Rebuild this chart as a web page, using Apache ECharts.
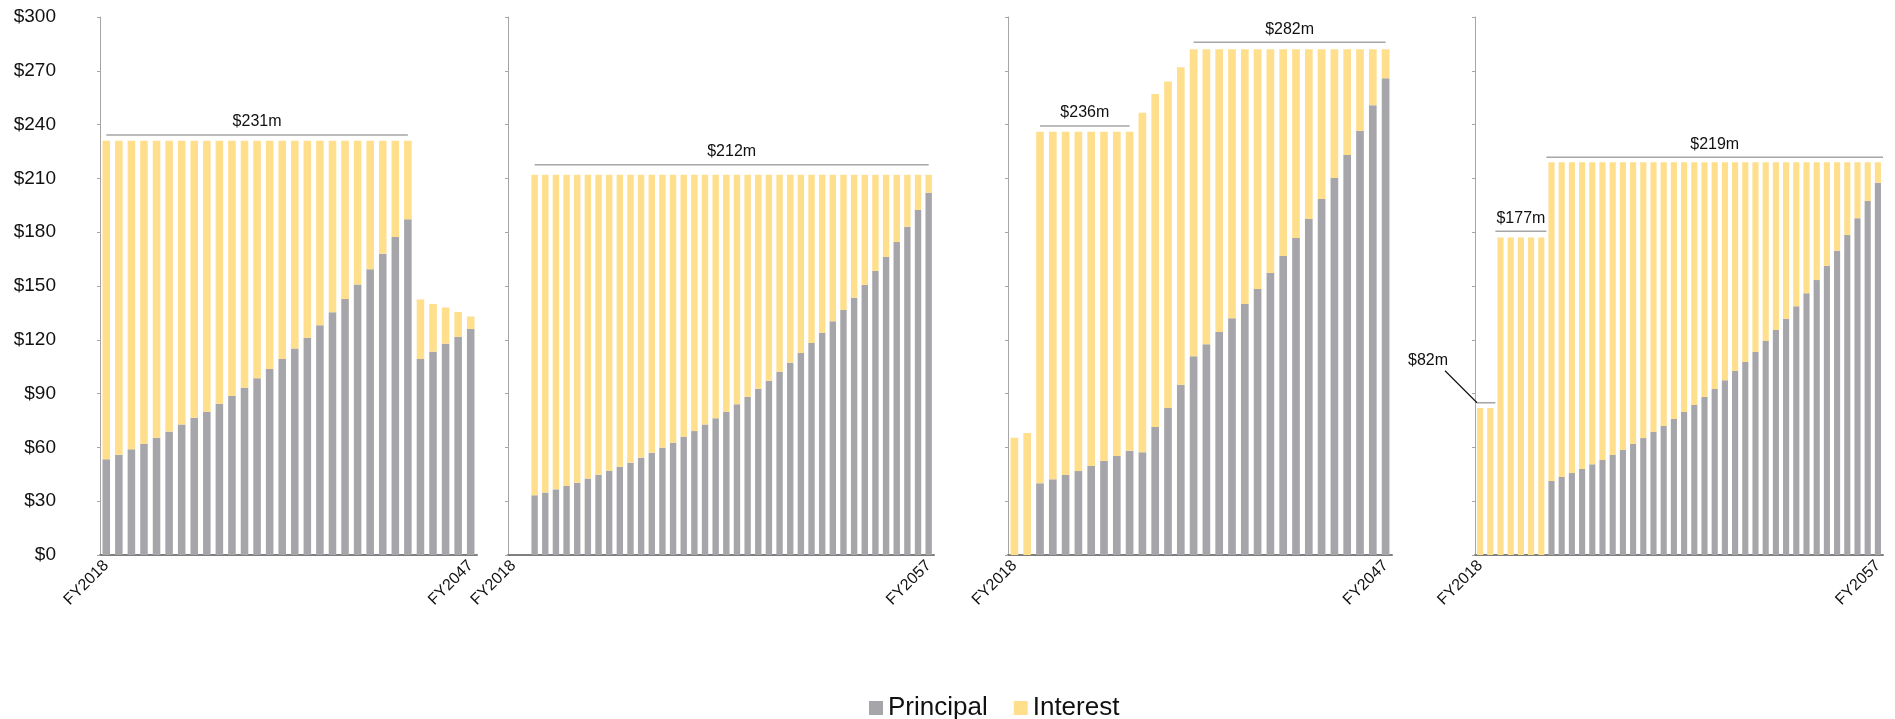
<!DOCTYPE html>
<html>
<head>
<meta charset="utf-8">
<title>Debt service by fiscal year</title>
<script src="https://cdn.jsdelivr.net/npm/echarts@6/dist/echarts.min.js"></script>
<style>
  html, body { margin: 0; padding: 0; background: #fff; }
  #chart { width: 1895px; height: 719px; }
</style>
</head>
<body>
<div id="chart"></div>
<script>
// Fiscal-year categories
const yearsTo2047 = ['FY2018','FY2019','FY2020','FY2021','FY2022','FY2023','FY2024','FY2025','FY2026','FY2027',
  'FY2028','FY2029','FY2030','FY2031','FY2032','FY2033','FY2034','FY2035','FY2036','FY2037',
  'FY2038','FY2039','FY2040','FY2041','FY2042','FY2043','FY2044','FY2045','FY2046','FY2047'];
const yearsTo2057 = ['FY2018','FY2019','FY2020','FY2021','FY2022','FY2023','FY2024','FY2025','FY2026','FY2027',
  'FY2028','FY2029','FY2030','FY2031','FY2032','FY2033','FY2034','FY2035','FY2036','FY2037',
  'FY2038','FY2039','FY2040','FY2041','FY2042','FY2043','FY2044','FY2045','FY2046','FY2047',
  'FY2048','FY2049','FY2050','FY2051','FY2052','FY2053','FY2054','FY2055','FY2056','FY2057'];

// Value axis ticks ($m)
const yTicks = { min: 0, max: 300, interval: 30 };

// Scenario 1: total annual debt service and its principal portion ($m)
const p1Total = [231, 231, 231, 231, 231, 231, 231, 231, 231, 231,
  231, 231, 231, 231, 231, 231, 231, 231, 231, 231,
  231, 231, 231, 231, 231, 142.5, 140, 138, 135.5, 133];
const p1Principal = [53.4, 55.9, 58.9, 62.1, 65.4, 68.8, 72.7, 76.6, 79.9, 84.4,
  88.7, 93.3, 98.5, 103.7, 109.3, 115.1, 121.2, 128.1, 135.3, 142.8,
  150.9, 159.3, 168.0, 177.3, 187.2, 109.3, 113.4, 117.8, 121.7, 126.0];

// Scenario 2
const p2Total = [0, 0, 212, 212, 212, 212, 212, 212, 212, 212,
  212, 212, 212, 212, 212, 212, 212, 212, 212, 212,
  212, 212, 212, 212, 212, 212, 212, 212, 212, 212,
  212, 212, 212, 212, 212, 212, 212, 212, 212, 212];
const p2Principal = [0, 0, 33.3, 34.8, 36.6, 38.5, 40.3, 42.6, 44.8, 47.0,
  49.2, 51.5, 54.3, 57.0, 59.8, 62.6, 66.0, 69.1, 72.7, 76.2,
  79.9, 84.0, 88.3, 92.7, 97.2, 102.2, 107.2, 112.6, 118.2, 124.0,
  130.3, 136.6, 143.5, 150.6, 158.4, 166.2, 174.5, 183.1, 192.4, 202.0];

// Scenario 3
const p3Total = [65.4, 68, 236, 236, 236, 236, 236, 236, 236, 236,
  246.6, 257.1, 264, 272, 282, 282, 282, 282, 282, 282,
  282, 282, 282, 282, 282, 282, 282, 282, 282, 282];
const p3Principal = [0, 0, 40.0, 42.2, 44.6, 46.8, 49.6, 52.4, 55.2, 58.2,
  57.3, 71.4, 82.0, 95.0, 110.8, 117.5, 124.4, 132.0, 140.0, 148.3,
  157.3, 166.7, 176.8, 187.4, 198.5, 210.2, 223.1, 236.4, 250.8, 265.8];

// Scenario 4
const p4Total = [82, 82, 177, 177, 177, 177, 177, 219, 219, 219,
  219, 219, 219, 219, 219, 219, 219, 219, 219, 219,
  219, 219, 219, 219, 219, 219, 219, 219, 219, 219,
  219, 219, 219, 219, 219, 219, 219, 219, 219, 219];
const p4Principal = [0, 0, 0, 0, 0, 0, 0, 41.3, 43.5, 45.7,
  48.0, 50.6, 53.0, 55.8, 58.6, 61.9, 65.2, 68.6, 71.9, 75.8,
  79.7, 83.6, 88.1, 92.6, 97.4, 102.6, 107.6, 113.2, 119.3, 125.5,
  131.8, 138.7, 145.9, 153.3, 161.3, 169.7, 178.4, 187.8, 197.4, 207.6];

// Level-payment brackets: [from category, line level ($m), to category, payment ($m), callout]
const p1Brackets = [[0, 234.2, 24, 231, 0]];
const p2Brackets = [[2, 217.6, 39, 212, 0]];
const p3Brackets = [[2, 239.2, 9, 236, 0], [14, 285.9, 29, 282, 0]];
const p4Brackets = [[-0.3, 84.9, 1.5, 82, 1], [1.5, 180.5, 6.5, 177, 0], [6.5, 221.8, 39.5, 219, 0]];

const FONT = '"Liberation Sans", Arial, Helvetica, sans-serif';
const GRAY = '#a6a6aa';
const YELLOW = '#ffde8c';
const AXIS_GRAY = '#a6a6a6';

const panels = [
  { cats: yearsTo2047, total: p1Total, principal: p1Principal, brackets: p1Brackets, left: 100, width: 377 },
  { cats: yearsTo2057, total: p2Total, principal: p2Principal, brackets: p2Brackets, left: 508, width: 426 },
  { cats: yearsTo2047, total: p3Total, principal: p3Principal, brackets: p3Brackets, left: 1008, width: 384 },
  { cats: yearsTo2057, total: p4Total, principal: p4Principal, brackets: p4Brackets, left: 1475, width: 408 }
];

// Draws a payment bracket: a horizontal rule over a run of years with its amount above it,
// or (callout) the amount set off to the left with a leader line.
function renderBracket(params, api) {
  const from = api.value(0);
  const level = api.value(1);
  const to = api.value(2);
  const amount = api.value(3);
  const callout = api.value(4);
  const origin = api.coord([0, level]);
  const band = api.size([1, 0])[0];
  const xa = origin[0] + from * band;
  const xb = origin[0] + to * band;
  const y = origin[1];
  const text = '$' + amount + 'm';
  const rule = { type: 'line', shape: { x1: xa, y1: y, x2: xb, y2: y },
                 style: { stroke: AXIS_GRAY, lineWidth: 1.6 } };
  if (callout) {
    return { type: 'group', children: [
      rule,
      { type: 'line', shape: { x1: xa, y1: y, x2: xa - 32, y2: y - 32 },
        style: { stroke: '#111', lineWidth: 1.2 } },
      { type: 'text', style: { text: text, x: xa - 29, y: y - 42, align: 'right',
        verticalAlign: 'middle', font: '16px ' + FONT, fill: '#111' } }
    ]};
  }
  return { type: 'group', children: [
    rule,
    { type: 'text', style: { text: text, x: (xa + xb) / 2, y: y - 13, align: 'center',
      verticalAlign: 'middle', font: '16px ' + FONT, fill: '#111' } }
  ]};
}

const grid = [], xAxis = [], yAxis = [], series = [];
panels.forEach((p, i) => {
  grid.push({ left: p.left, top: 17, width: p.width, height: 538 });
  const last = p.cats.length - 1;
  xAxis.push({
    type: 'category', gridIndex: i, data: p.cats,
    axisLine: { lineStyle: { color: '#7f7f7f', width: 2 } },
    axisTick: { show: false },
    axisLabel: {
      interval: (idx) => idx === 0 || idx === last,
      rotate: 45, margin: 8, fontSize: 16, fontFamily: FONT, color: '#111'
    }
  });
  yAxis.push({
    type: 'value', gridIndex: i, min: yTicks.min, max: yTicks.max, interval: yTicks.interval,
    splitLine: { show: false },
    axisLine: { show: true, lineStyle: { color: AXIS_GRAY, width: 1 } },
    axisTick: { show: true, length: 3, lineStyle: { color: AXIS_GRAY } },
    axisLabel: {
      show: i === 0, margin: 44, fontSize: 19, fontFamily: FONT, color: '#111',
      formatter: (v) => '$' + v
    }
  });
  series.push({
    name: 'Principal', type: 'bar', xAxisIndex: i, yAxisIndex: i, stack: 'debt' + i,
    data: p.principal, itemStyle: { color: GRAY }, barCategoryGap: '40%'
  });
  series.push({
    name: 'Interest', type: 'bar', xAxisIndex: i, yAxisIndex: i, stack: 'debt' + i,
    data: p.total.map((t, k) => +(t - p.principal[k]).toFixed(1)),
    itemStyle: { color: YELLOW }, barCategoryGap: '40%'
  });
  series.push({
    name: 'brackets' + i, type: 'custom', xAxisIndex: i, yAxisIndex: i,
    data: p.brackets, encode: { x: 0, y: 1 }, renderItem: renderBracket, z: 5, silent: true
  });
});

const chart = echarts.init(document.getElementById('chart'), null, { renderer: 'canvas' });
chart.setOption({
  animation: false,
  textStyle: { fontFamily: FONT },
  legend: {
    data: ['Principal', 'Interest'], left: 864, top: 690,
    icon: 'rect', itemWidth: 14, itemHeight: 14, itemGap: 26,
    textStyle: { fontSize: 26, fontFamily: FONT, color: '#111' }
  },
  grid: grid, xAxis: xAxis, yAxis: yAxis, series: series
});
</script>
</body>
</html>
